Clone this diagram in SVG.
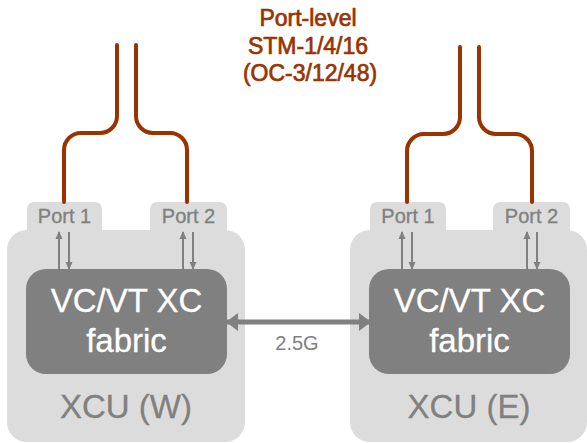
<svg xmlns="http://www.w3.org/2000/svg" width="587" height="443" viewBox="0 0 587 443">
<style>
.outer{fill:#dcdcdc}
.fab{fill:#808080}
.port{font-family:"Liberation Sans",Arial,sans-serif;font-size:20px;fill:#808080;stroke:#808080;stroke-width:0.3;text-anchor:middle}
.big{font-family:"Liberation Sans",Arial,sans-serif;font-size:33px;fill:#ffffff;stroke:#ffffff;stroke-width:0.3;text-anchor:middle}
.xcu{font-family:"Liberation Sans",Arial,sans-serif;font-size:33px;fill:#808080;stroke:#808080;stroke-width:0.3;text-anchor:middle}
.title{font-family:"Liberation Sans",Arial,sans-serif;font-size:23px;fill:#993300;stroke:#993300;stroke-width:0.7;text-anchor:middle}
.fiber{fill:none;stroke:#993300;stroke-width:4;stroke-linecap:round}
.small{stroke:#808080;stroke-width:2;fill:none}
.link{stroke:#808080;stroke-width:5;fill:none}
.lbl{font-family:"Liberation Sans",Arial,sans-serif;font-size:20px;fill:#808080;text-anchor:middle}
</style>
<defs>
<marker id="sa" markerUnits="userSpaceOnUse" markerWidth="8" markerHeight="8" viewBox="0 0 8 8" refX="7" refY="4" orient="auto">
<path d="M0,0.5 L8,4 L0,7.5 Z" fill="#808080"/>
</marker>
<marker id="la" markerUnits="userSpaceOnUse" markerWidth="12" markerHeight="18" viewBox="0 0 12 18" refX="11" refY="9" orient="auto-start-reverse">
<path d="M0,0 L12,9 L0,18 Z" fill="#808080"/>
</marker>
</defs>

<g id="title">
<text class="title" x="308" y="26">Port-level</text>
<text class="title" x="308" y="54">STM-1/4/16</text>
<text class="title" x="310" y="81">(OC-3/12/48)</text>
</g>

<g id="xcu-w">
<rect class="outer" x="7" y="230" width="238" height="212" rx="20"/>
<rect class="outer" x="27" y="202" width="75" height="40" rx="7"/>
<rect class="outer" x="150" y="202" width="77" height="40" rx="7"/>
<text class="port" x="64.5" y="223">Port 1</text>
<text class="port" x="188.5" y="223">Port 2</text>
<text class="xcu" x="126" y="418">XCU (W)</text>
</g>
<g id="fabric-w">
<rect class="fab" x="26" y="269" width="201" height="105" rx="20"/>
<text class="big" x="126.5" y="312">VC/VT XC</text>
<text class="big" x="126.5" y="352">fabric</text>
</g>

<g id="xcu-e">
<rect class="outer" x="350" y="230" width="237" height="212" rx="20"/>
<rect class="outer" x="370" y="202" width="76" height="40" rx="7"/>
<rect class="outer" x="493" y="202" width="77" height="40" rx="7"/>
<text class="port" x="408" y="223">Port 1</text>
<text class="port" x="531.5" y="223">Port 2</text>
<text class="xcu" x="469" y="418">XCU (E)</text>
</g>
<g id="fabric-e">
<rect class="fab" x="369" y="269" width="201" height="105" rx="20"/>
<text class="big" x="469.5" y="312">VC/VT XC</text>
<text class="big" x="469.5" y="352">fabric</text>
</g>

<g id="connectors">
<path class="fiber" d="M64,202 V150 A17,17 0 0 1 81,133 H100 A17,17 0 0 0 117,116 V45"/>
<path class="fiber" d="M187,202 V150 A17,17 0 0 0 170,133 H153 A17,17 0 0 1 136,116 V45"/>
<path class="fiber" d="M407,202 V151 A17,17 0 0 1 424,134 H443 A17,17 0 0 0 460,117 V47"/>
<path class="fiber" d="M532,202 V151 A17,17 0 0 0 515,134 H496 A17,17 0 0 1 479,117 V47"/>

<line class="small" x1="59" y1="269" x2="59" y2="232" marker-end="url(#sa)"/>
<line class="small" x1="69" y1="232" x2="69" y2="269" marker-end="url(#sa)"/>
<line class="small" x1="183" y1="269" x2="183" y2="232" marker-end="url(#sa)"/>
<line class="small" x1="193" y1="232" x2="193" y2="269" marker-end="url(#sa)"/>
<line class="small" x1="402" y1="269" x2="402" y2="232" marker-end="url(#sa)"/>
<line class="small" x1="412" y1="232" x2="412" y2="269" marker-end="url(#sa)"/>
<line class="small" x1="527" y1="269" x2="527" y2="232" marker-end="url(#sa)"/>
<line class="small" x1="537" y1="232" x2="537" y2="269" marker-end="url(#sa)"/>

<line class="link" x1="227" y1="322" x2="370" y2="322" marker-start="url(#la)" marker-end="url(#la)"/>
<text class="lbl" x="297" y="350">2.5G</text>
</g>
</svg>
